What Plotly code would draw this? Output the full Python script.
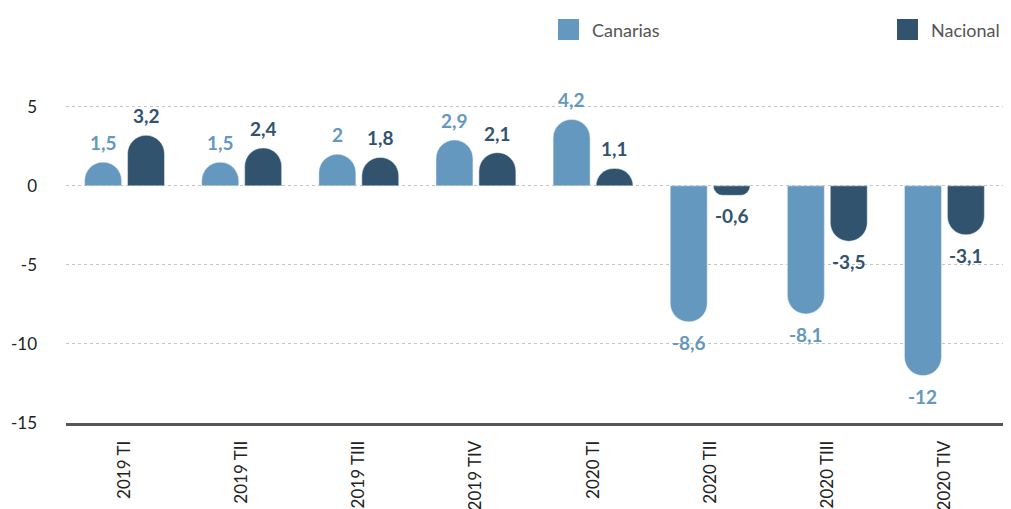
import plotly.graph_objects as go

categories = ["2019 TI", "2019 TII", "2019 TIII", "2019 TIV", "2020 TI", "2020 TII", "2020 TIII", "2020 TIV"]
canarias = [1.5, 1.5, 2, 2.9, 4.2, -8.6, -8.1, -12]
nacional = [3.2, 2.4, 1.8, 2.1, 1.1, -0.6, -3.5, -3.1]
series_names = ["Canarias", "Nacional"]
colors = ["#6498BE", "#32536E"]
y_ticks = [5, 0, -5, -10, -15]

def fmt(v):
    return f"{v:g}".replace(".", ",")

W, H = 1011, 509
L, R, T, B = 66, 8, 91, 86

fig = go.Figure()
for name, vals, col in zip(series_names, [canarias, nacional], colors):
    fig.add_trace(go.Bar(
        x=categories, y=vals, name=name, marker_color=col,
        showlegend=False, hoverinfo="x+y",
    ))

# value labels placed at the bar ends
offsets = [-21.5, 21.5]
for vals, col, dx in zip([canarias, nacional], colors, offsets):
    for c, v in zip(categories, vals):
        fig.add_annotation(
            x=c, y=v, xref="x", yref="y", text=fmt(v), showarrow=False,
            xshift=dx, yshift=6 if v >= 0 else -7,
            yanchor="bottom" if v >= 0 else "top", xanchor="center",
            font=dict(family="Lato", size=19, color=col, weight="bold"),
        )

fig.update_layout(
    width=W, height=H,
    margin=dict(l=L, r=R, t=T, b=B),
    plot_bgcolor="white", paper_bgcolor="white",
    barmode="group", bargap=0.267, bargroupgap=0.14,
    barcornerradius="50%",
    font=dict(family="Lato", color="#222"),
)
fig.update_yaxes(
    range=[-15, 6], tickvals=y_ticks, ticktext=[str(t) for t in y_ticks],
    showgrid=True, gridcolor="#c4c4c4", griddash="dot", gridwidth=1,
    zeroline=False, showline=False, ticks="", automargin=False,
    tickfont=dict(family="Lato", size=17, color="#222"),
    ticklabelstandoff=28,
)
fig.update_xaxes(
    showline=True, linecolor="#555", linewidth=3, ticks="", automargin=False,
    tickangle=-90, tickfont=dict(family="Lato", size=17, color="#222"),
    showgrid=False, ticklabelstandoff=8,
)

# manual legend
pw, ph = W - L - R, H - T - B
def px(x): return (x - L) / pw
def py(y): return (H - B - y) / ph
legend_x = [558, 897]
for name, col, lx in zip(series_names, colors, legend_x):
    fig.add_shape(type="rect", xref="paper", yref="paper",
                  x0=px(lx), x1=px(lx + 21), y0=py(40), y1=py(19),
                  fillcolor=col, line=dict(width=0))
    fig.add_annotation(xref="paper", yref="paper", x=px(lx + 32), y=py(30),
                       text=name, showarrow=False, xanchor="left", yanchor="middle",
                       font=dict(family="Lato", size=18, color="#555"))

fig.write_html("out.html", config={"displayModeBar": False},
               post_script="document.body.style.margin='0';document.body.style.overflow='hidden';")
